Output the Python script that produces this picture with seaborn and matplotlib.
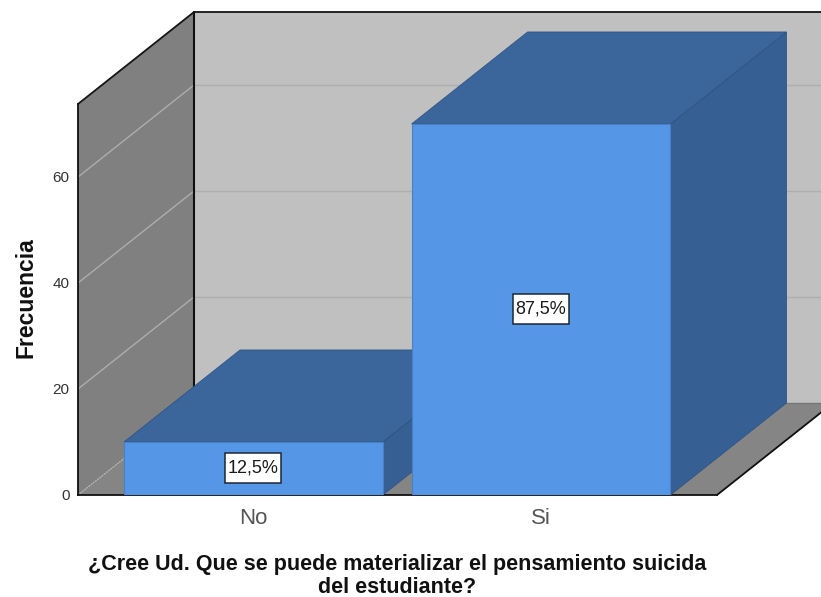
import matplotlib
matplotlib.use('Agg')
import matplotlib.pyplot as plt
import pandas as pd
import seaborn as sns

categories = ['No', 'Si']
counts = [10, 70]
pct_labels = ['12,5%', '87,5%']
y_ticks = [0, 20, 40, 60]

sns.set_theme(style='white')
plt.rcParams['font.family'] = ['Liberation Sans', 'DejaVu Sans']

W, H = 821, 597
fig = plt.figure(figsize=(W / 100, H / 100), dpi=100)
# front plane of the 3d box, in pixels
ax = fig.add_axes([78 / W, 1 - 495 / H, (717 - 78) / W, (495 - 104) / H])

df = pd.DataFrame({'cat': categories, 'n': counts})
sns.barplot(data=df, x='cat', y='n', width=0.9, color='#5596e6', saturation=1,
            edgecolor='#4a7fc4', linewidth=0.8, zorder=10, ax=ax)

xmin, xmax = -0.610, 1.612
ymax = 73.77
ax.set_xlim(xmin, xmax)
ax.set_ylim(0, ymax)

# depth of the box in data units
dx = 116 / 287.5
dy = 92 / 5.3
# label box size in data units
box_w = 56 / 287.5
box_h = 30 / 5.3


def poly(xs, ys, color, z, edge='none', lw=0):
    ax.fill(xs, ys, facecolor=color, edgecolor=edge, linewidth=lw, zorder=z, clip_on=False)


# walls and floor
poly([xmin + dx, xmax + dx, xmax + dx, xmin + dx], [dy, dy, ymax + dy, ymax + dy], '#c0c0c0', 1)
poly([xmin, xmin + dx, xmin + dx, xmin], [0, dy, ymax + dy, ymax], '#808080', 2)
poly([xmin, xmax, xmax + dx, xmin + dx], [0, 0, dy, dy], '#858585', 2)

# grid lines
for t in y_ticks:
    if t == 0:
        ax.plot([xmin, xmin + dx], [0, dy], color='#b5b5b5', lw=1, ls=(0, (1, 1)), zorder=3, clip_on=False)
        ax.plot([xmin + dx, xmax + dx], [dy, dy], color='#777777', lw=1, zorder=3, clip_on=False)
        continue
    ax.plot([xmin, xmin + dx], [t, t + dy], color='#adadad', lw=1, zorder=3, clip_on=False)
    ax.plot([xmin + dx, xmax + dx], [t + dy, t + dy], color='#aeaeae', lw=1, zorder=3, clip_on=False)

# wall outlines
ax.plot([xmin, xmin + dx, xmax + dx], [ymax, ymax + dy, ymax + dy], color='#151515', lw=1.3, zorder=4, clip_on=False)
ax.plot([xmin + dx, xmin + dx], [dy, ymax + dy], color='#101010', lw=1.5, zorder=4, clip_on=False)
ax.plot([xmax, xmax + dx], [0, dy], color='#101010', lw=1.3, zorder=4, clip_on=False)

# sides and tops of the bars
for i, n in enumerate(counts):
    l, r = i - 0.45, i + 0.45
    poly([r, r + dx, r + dx, r], [0, dy, n + dy, n], '#365f94', 5 + i * 2, '#2f5485', 0.6)
    poly([l, r, r + dx, l + dx], [n, n, n + dy, n + dy], '#3a669c', 5 + i * 2, '#2f5485', 0.6)
    # front of the first bar must stay under the second bar's faces
    ax.patches[i].set_zorder(6 + i * 2)
    mid = n / 2
    poly([i - box_w / 2, i + box_w / 2, i + box_w / 2, i - box_w / 2],
         [mid - box_h / 2, mid - box_h / 2, mid + box_h / 2, mid + box_h / 2],
         'white', 12, '#1c2733', 1.1)
    ax.text(i, mid, pct_labels[i], ha='center', va='center', fontsize=13, color='#1a1a1a', zorder=13)

ax.set_yticks(y_ticks)
ax.tick_params(axis='y', left=False, length=0, labelsize=11, pad=6, labelcolor='#333333')
ax.tick_params(axis='x', bottom=False, length=0, labelsize=16, pad=9.5, labelcolor='#555555')
ax.set_xlabel('¿Cree Ud. Que se puede materializar el pensamiento suicida\ndel estudiante?',
              fontsize=15.5, fontweight='bold', color='#111111', linespacing=1.13, labelpad=18)
ax.set_ylabel('Frecuencia', fontsize=16.5, fontweight='bold', color='#111111', labelpad=11)
ax.xaxis.label.set_x((397 - 78) / (717 - 78))
ax.yaxis.label.set_y(0.505)

for s in ['top', 'right']:
    ax.spines[s].set_visible(False)
for s in ['left', 'bottom']:
    ax.spines[s].set_color('#101010')
    ax.spines[s].set_linewidth(1.3)
    ax.spines[s].set_zorder(5)

fig.savefig('out.png', dpi=100)
